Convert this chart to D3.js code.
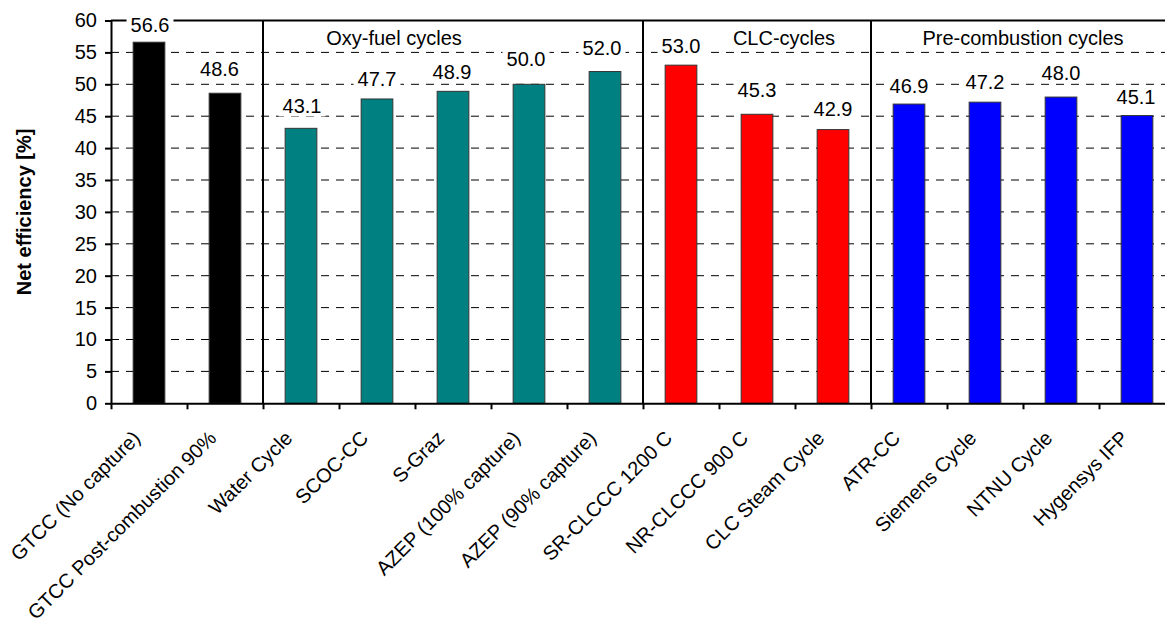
<!DOCTYPE html>
<html>
<head>
<meta charset="utf-8">
<script src="https://cdn.jsdelivr.net/npm/d3@7"></script>
<style>
  html, body { margin: 0; padding: 0; background: #fff; }
  svg { display: block; }
  text { font-family: "Liberation Sans", Arial, sans-serif; fill: #000; }
</style>
</head>
<body>
<svg id="chart" width="1165" height="620"></svg>
<script>
// ---------- data ----------
const categories = [
  "GTCC (No capture)", "GTCC Post-combustion 90%", "Water Cycle", "SCOC-CC", "S-Graz",
  "AZEP (100% capture)", "AZEP (90% capture)", "SR-CLCCC 1200 C", "NR-CLCCC 900 C",
  "CLC Steam Cycle", "ATR-CC", "Siemens Cycle", "NTNU Cycle", "Hygensys IFP"
];
const efficiency = [56.6, 48.6, 43.1, 47.7, 48.9, 50.0, 52.0, 53.0, 45.3, 42.9, 46.9, 47.2, 48.0, 45.1];
const categoryGroup = [0, 0, 1, 1, 1, 1, 1, 2, 2, 2, 3, 3, 3, 3];
const groupNames = ["", "Oxy-fuel cycles", "CLC-cycles", "Pre-combustion cycles"];
const yTicks = [0, 5, 10, 15, 20, 25, 30, 35, 40, 45, 50, 55, 60];
const yTitle = "Net efficiency [%]";

// ---------- styles / layout ----------
const groupColors = ["#000000", "#008080", "#FF0000", "#0000FF"];
const labelGap = [10, 17.4, 14.9, 12.8, 11.9, 18.2, 16.4, 11.7, 16.8, 13.5, 10.7, 12.7, 16.9, 11.4];
const labelDx  = [1, -5.5, 1, 0, -1, -3, -3, 0, 0, 0, 0, 0, 0, -1];
const groupLabelDx = [0, -59, 27, 0];
const FONT = 20;

const svg = d3.select("#chart");
const plotLeft = 111, step = 76, plotTop = 20.5, plotBottom = 403.3;
const plotRight = plotLeft + step * categories.length;

const y = d3.scaleLinear().domain([0, 60]).range([plotBottom, plotTop]);
const slot = d3.scaleLinear().domain([0, categories.length]).range([plotLeft, plotRight]);
const x = d3.scaleBand().domain(categories).range([plotLeft, plotRight])
  .paddingInner(0.583).paddingOuter(0.2915);

// gridlines (dashed)
svg.append("g").selectAll("line")
  .data(yTicks.filter(t => t > 0 && t < 60))
  .join("line")
  .attr("x1", plotLeft).attr("x2", 1165)
  .attr("y1", d => y(d)).attr("y2", d => y(d))
  .attr("stroke", "#000").attr("stroke-width", 1)
  .attr("stroke-dasharray", "8,7");

// top border
svg.append("line")
  .attr("x1", plotLeft).attr("x2", 1165).attr("y1", y(60)).attr("y2", y(60))
  .attr("stroke", "#000").attr("stroke-width", 2);

// bars
svg.append("g").selectAll("rect")
  .data(categories)
  .join("rect")
  .attr("x", d => x(d))
  .attr("width", x.bandwidth())
  .attr("y", (d, i) => y(efficiency[i]))
  .attr("height", (d, i) => y(0) - y(efficiency[i]))
  .attr("fill", (d, i) => groupColors[categoryGroup[i]])
  .attr("stroke", "#333").attr("stroke-width", 1);

// group separators
const sepIdx = [];
for (let i = 1; i < categoryGroup.length; i++) if (categoryGroup[i] !== categoryGroup[i - 1]) sepIdx.push(i);
svg.append("g").selectAll("line")
  .data(sepIdx)
  .join("line")
  .attr("x1", d => slot(d)).attr("x2", d => slot(d))
  .attr("y1", y(60)).attr("y2", y(0))
  .attr("stroke", "#000").attr("stroke-width", 2);

// x axis
const xAxis = svg.append("g")
  .attr("transform", `translate(0,${y(0)})`)
  .call(d3.axisBottom(slot).tickValues(d3.range(categories.length + 1)).tickFormat("").tickSize(6).tickSizeOuter(0));
xAxis.select(".domain").attr("stroke-width", 2);
xAxis.selectAll(".tick line").attr("stroke-width", 2);

// y axis
const yAxis = svg.append("g")
  .attr("transform", `translate(${plotLeft},0)`)
  .call(d3.axisLeft(y).tickValues(yTicks).tickSize(6).tickPadding(8).tickSizeOuter(0));
yAxis.select(".domain").attr("stroke-width", 2);
yAxis.selectAll(".tick line").attr("stroke-width", 2);
yAxis.selectAll(".tick text")
  .style("font-size", FONT + "px")
  .style("font-family", '"Liberation Sans", Arial, sans-serif');

// category labels
svg.append("g").selectAll("text")
  .data(categories)
  .join("text")
  .attr("transform", (d, i) => `translate(${slot(i + 0.5) - 7.5},${y(0) + 36}) rotate(-45)`)
  .attr("text-anchor", "end")
  .style("font-size", FONT + "px")
  .text(d => d);

// value labels with white boxes
const vl = svg.append("g");
categories.forEach((c, i) => {
  const g = vl.append("g");
  const t = g.append("text")
    .attr("x", x(c) + x.bandwidth() / 2 + labelDx[i])
    .attr("y", y(efficiency[i]) - labelGap[i])
    .attr("text-anchor", "middle")
    .style("font-size", FONT + "px")
    .text(d3.format(".1f")(efficiency[i]));
  const bb = t.node().getBBox();
  g.insert("rect", "text")
    .attr("x", bb.x - 4).attr("y", bb.y + 1)
    .attr("width", bb.width + 8).attr("height", bb.height - 2)
    .attr("fill", "#fff");
});

// group labels
svg.append("g").selectAll("text")
  .data(groupNames.map((n, gi) => ({ n, gi })).filter(d => d.n))
  .join("text")
  .attr("x", d => {
    const idx = categoryGroup.map((g, i) => g === d.gi ? i : -1).filter(i => i >= 0);
    return (slot(idx[0]) + slot(idx[idx.length - 1] + 1)) / 2 + groupLabelDx[d.gi];
  })
  .attr("y", 45)
  .attr("text-anchor", "middle")
  .style("font-size", FONT + "px")
  .text(d => d.n);

// y title
svg.append("text")
  .attr("transform", `translate(31,${(y(0) + y(60)) / 2}) rotate(-90)`)
  .attr("text-anchor", "middle")
  .style("font-size", FONT + "px")
  .style("font-weight", "bold")
  .text(yTitle);
</script>
</body>
</html>
